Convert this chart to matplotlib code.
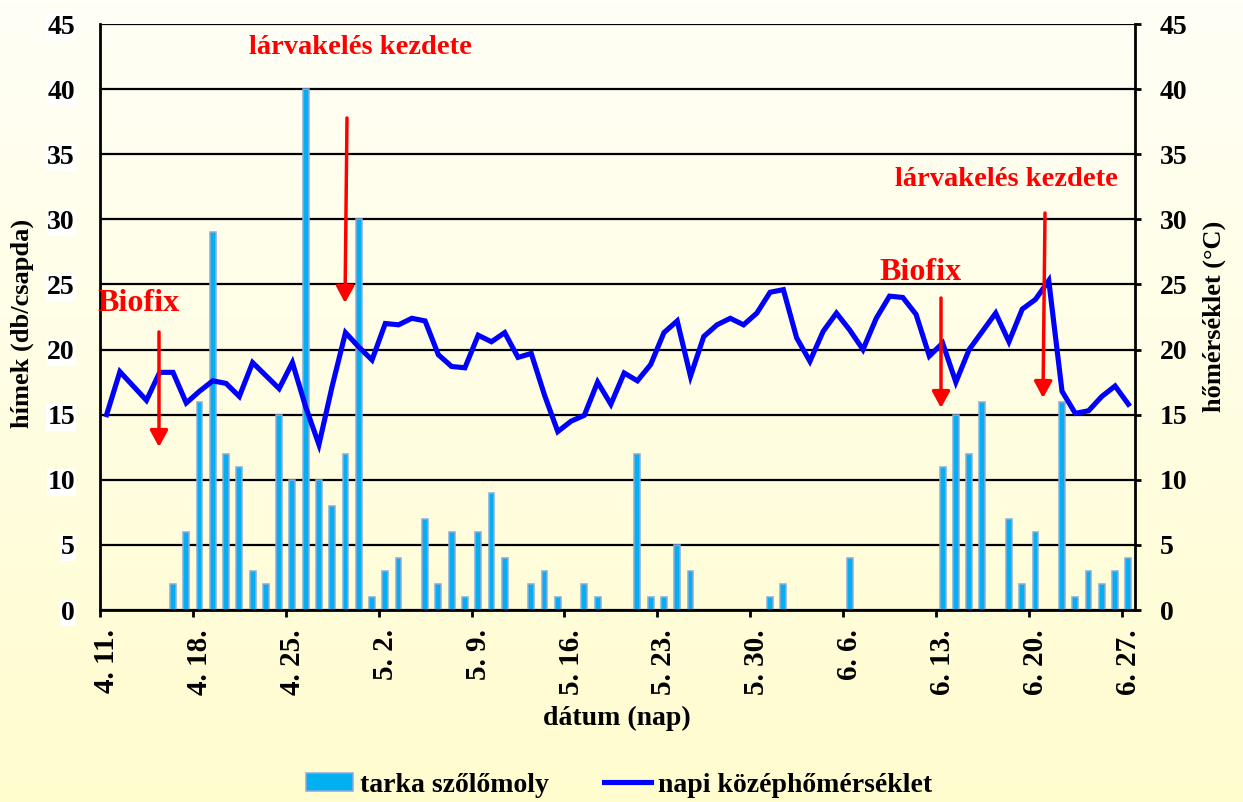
import numpy as np
import pandas as pd
import matplotlib
matplotlib.use("Agg")
import matplotlib.pyplot as plt
from matplotlib.patches import FancyArrowPatch, Patch

# ---------------- data ----------------
dates = pd.date_range("2000-04-11", "2000-06-27", freq="D")
date_labels = [f"{d.month}. {d.day}." for d in dates]
tick_every = 7

moth_counts = [0, 0, 0, 0, 0, 2, 6, 16, 29, 12,
               11, 3, 2, 15, 10, 40, 10, 8, 12, 30,
               1, 3, 4, 0, 7, 2, 6, 1, 6, 9,
               4, 0, 2, 3, 1, 0, 2, 1, 0, 0,
               12, 1, 1, 5, 3, 0, 0, 0, 0, 0,
               1, 2, 0, 0, 0, 0, 4, 0, 0, 0,
               0, 0, 0, 11, 15, 12, 16, 0, 7, 2,
               6, 0, 16, 1, 3, 2, 3, 4]

mean_temp = [15.0, 18.3, 17.2, 16.1, 18.25, 18.25, 15.9, 16.8, 17.6, 17.4,
             16.4, 19.0, 18.0, 17.0, 19.0, 15.6, 12.7, 17.2, 21.3, 20.2,
             19.2, 22.0, 21.9, 22.4, 22.2, 19.6, 18.7, 18.6, 21.1, 20.6,
             21.3, 19.4, 19.7, 16.5, 13.7, 14.5, 14.95, 17.5, 15.8, 18.2,
             17.6, 18.85, 21.3, 22.2, 17.95, 21.0, 21.9, 22.4, 21.9, 22.8,
             24.4, 24.6, 20.9, 19.1, 21.4, 22.8, 21.5, 20.0, 22.4, 24.1,
             24.0, 22.7, 19.5, 20.5, 17.5, 20.0, 21.4, 22.8, 20.6, 23.1,
             23.85, 25.3, 16.8, 15.1, 15.3, 16.4, 17.2, 15.8]

y_ticks = [0, 5, 10, 15, 20, 25, 30, 35, 40, 45]
series_names = ["tarka szőlőmoly", "napi középhőmérséklet"]
left_label = "hímek (db/csapda)"
right_label = "hőmérséklet (°C)"
x_label = "dátum (nap)"
annotations = ["Biofix", "lárvakelés kezdete", "Biofix", "lárvakelés kezdete"]

# ---------------- figure ----------------
W, H = 1243, 802
FONT = "Liberation Serif"
plt.rcParams["font.family"] = [FONT, "DejaVu Serif"]
plt.rcParams["font.weight"] = "bold"

fig = plt.figure(figsize=(W / 100, H / 100), dpi=100)

def fx(x):
    return x / W

def fy(y):
    return 1 - y / H

# background gradient
bg = fig.add_axes([0, 0, 1, 1], zorder=-10)
top = np.array([1.0, 1.0, 0.965])
bot = np.array([1.0, 0.99, 0.81])
t = np.linspace(0, 1, 256)[:, None]
grad = top[None, :] * (1 - t) + bot[None, :] * t
bg.imshow(grad[:, None, :], aspect="auto", extent=[0, 1, 0, 1])
bg.axis("off")

ax = fig.add_axes([fx(100), fy(610), fx(1035), 586 / H])
ax.set_facecolor("none")
x = np.arange(len(dates))

BAR_FACE = "#00B0F0"
BAR_EDGE = "#8EA9DB"
bars = ax.bar(x, moth_counts, width=0.44, color=BAR_FACE,
              edgecolor=BAR_EDGE, linewidth=1.1, zorder=2)
for patch, v in zip(bars.patches, moth_counts):
    if v == 0:
        patch.set_edgecolor("none")
ax.set_xlim(-0.5, len(dates) - 0.5)
ax.set_ylim(0, 45)
ax.set_yticks(y_ticks)
ax.yaxis.grid(True, color="black", linewidth=1.6, zorder=1)
ax.set_axisbelow(True)

for s in ["left", "right", "bottom"]:
    ax.spines[s].set_linewidth(2)
    ax.spines[s].set_color("black")
    ax.spines[s].set_zorder(4)
ax.spines["top"].set_visible(False)

ax.tick_params(axis="y", length=0, pad=18, labelsize=20)
for lab in ax.get_yticklabels():
    lab.set_fontweight("bold")
    lab.set_bbox(dict(facecolor="white", edgecolor="none", pad=0.5))

# x ticks: marks at category boundaries, labels at centers
major = np.arange(0, len(dates), tick_every) - 0.5
ax.set_xticks(major)
ax.set_xticklabels([])
ax.tick_params(axis="x", which="major", direction="out", length=5, width=2)
minor = np.arange(0, len(dates), tick_every)
ax.set_xticks(minor, minor=True)
ax.set_xticklabels([date_labels[i] for i in minor], minor=True,
                   rotation=90, fontsize=21, fontweight="bold")
ax.tick_params(axis="x", which="minor", length=0, pad=14)

ax.set_ylabel(left_label, fontsize=19, fontweight="bold")
ax.yaxis.set_label_coords((34 - 100) / 1035, (610 - 323) / 586)
ax.set_xlabel(x_label, fontsize=20, fontweight="bold")
ax.xaxis.set_label_coords(0.4995, (610 - 706) / 586)

ax2 = ax.twinx()
ax2.set_ylim(0, 45)
ax2.set_yticks(y_ticks)
line, = ax2.plot(x, mean_temp, color="#0000FF", linewidth=3.7, zorder=5,
                 solid_joinstyle="miter", label=series_names[1])
for s in ax2.spines.values():
    s.set_visible(False)
ax2.tick_params(axis="y", direction="out", length=4, width=2, pad=14,
                labelsize=20)
for lab in ax2.get_yticklabels():
    lab.set_fontweight("bold")
ax2.set_ylabel(right_label, fontsize=19, fontweight="bold")
ax2.yaxis.set_label_coords((1203 - 100) / 1035, (610 - 316) / 586)

# annotations (figure pixel positions)
red = "#FF0000"
text_specs = [(annotations[0], 138, 304, 23),
              (annotations[1], 360, 47, 20.5),
              (annotations[2], 921, 273, 23),
              (annotations[3], 1006, 180, 20.5)]
for txt, tx, ty, fs in text_specs:
    fig.text(fx(tx), fy(ty), txt, color=red, fontsize=fs, fontweight="bold",
             ha="center", va="center")

arrow_specs = [((159, 332), (159, 447)),
               ((347, 118), (345, 303)),
               ((941, 298), (941, 408)),
               ((1045, 213), (1043, 398))]
for (x0, y0), (x1, y1) in arrow_specs:
    arr = FancyArrowPatch((fx(x0), fy(y0)), (fx(x1), fy(y1)),
                          transform=fig.transFigure,
                          arrowstyle="-|>,head_length=0.55,head_width=0.3",
                          mutation_scale=18, color=red, linewidth=2.5,
                          shrinkA=0, shrinkB=0, zorder=10)
    fig.add_artist(arr)

bar_handle = Patch(facecolor=BAR_FACE, edgecolor=BAR_EDGE, linewidth=1.1)
fig.legend(handles=[bar_handle, line], labels=series_names, loc="center",
           bbox_to_anchor=(fx(619), fy(785)), ncol=2, frameon=False,
           handlelength=1.7, handleheight=0.6, handletextpad=0.25,
           columnspacing=2.0, prop={"family": FONT, "weight": "bold", "size": 20})

fig.savefig("out.png", dpi=100)
